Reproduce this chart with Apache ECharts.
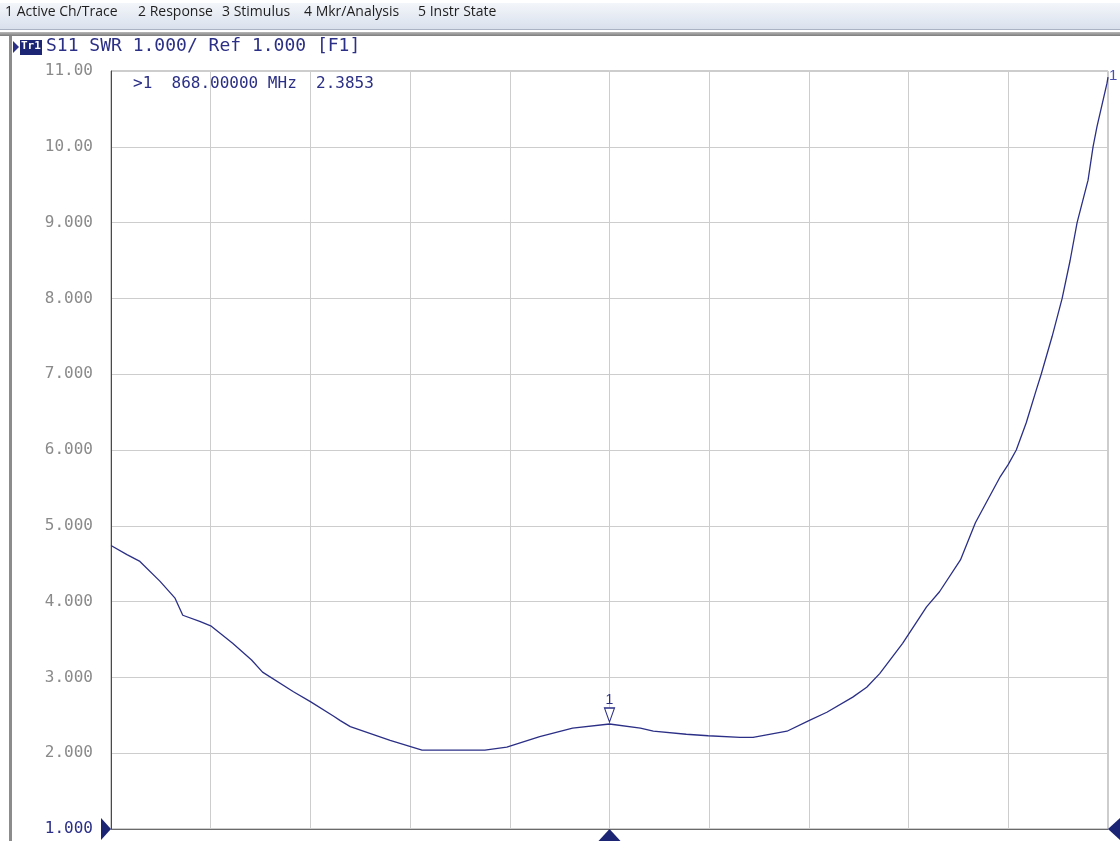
<!DOCTYPE html>
<html>
<head>
<meta charset="utf-8">
<script src="https://cdn.jsdelivr.net/npm/echarts@6/dist/echarts.min.js"></script>
<style>
  html, body { margin: 0; padding: 0; background: #fff; }
  #main { width: 1120px; height: 841px; }
</style>
</head>
<body>
<div id="main"></div>
<script>
// 菜单栏文字
var menuItems = ['1 Active Ch/Trace', '2 Response', '3 Stimulus', '4 Mkr/Analysis', '5 Instr State'];
// 横轴按格数 (0 ~ 10)，标记 1 在中间 868 MHz
var xDiv = [0.00, 0.16, 0.29, 0.49, 0.64, 0.72, 0.89, 1.00, 1.22, 1.41, 1.52, 1.83, 2.00, 2.23, 2.30,
  2.40, 2.80, 3.12, 3.75, 3.97, 4.30, 4.63, 5.00, 5.31, 5.44, 5.77, 5.99, 6.31, 6.44, 6.78,
  7.00, 7.18, 7.44, 7.58, 7.71, 7.94, 8.18, 8.31, 8.52, 8.67, 8.92, 9.00, 9.08, 9.18, 9.28,
  9.33, 9.44, 9.54, 9.62, 9.69, 9.80, 9.85, 9.89, 9.99, 10.00];
// SWR 值
var swr = [4.74, 4.62, 4.53, 4.27, 4.05, 3.82, 3.74, 3.68, 3.45, 3.23, 3.07, 2.81, 2.68, 2.49, 2.43,
  2.35, 2.17, 2.04, 2.04, 2.08, 2.22, 2.33, 2.3853, 2.33, 2.29, 2.25, 2.23, 2.21, 2.21, 2.29,
  2.43, 2.54, 2.74, 2.87, 3.05, 3.45, 3.93, 4.13, 4.55, 5.04, 5.65, 5.81, 6.00, 6.36, 6.79,
  7.00, 7.50, 8.00, 8.50, 9.00, 9.56, 10.00, 10.27, 10.84, 10.92];
// 纵轴刻度文字
var yTicks = [1, 2, 3, 4, 5, 6, 7, 8, 9, 10, 11];
var yTickLabels = ['1.000', '2.000', '3.000', '4.000', '5.000', '6.000', '7.000', '8.000', '9.000', '10.00', '11.00'];
// 标记
var markerX = 5;
var markerVal = 2.3853;
var markerText = '>1  868.00000 MHz  2.3853';
var headerText = 'S11 SWR 1.000/ Ref 1.000 [F1]';

var navy = '#2b2f86';
var mono = '"DejaVu Sans Mono", monospace';

var myChart = echarts.init(document.getElementById('main'));

// 菜单文字位置
var menuX = [5, 138, 222, 304, 418];
var graphics = [
  {
    type: 'rect', left: 0, top: 3, z: 0,
    shape: { width: 1120, height: 26 },
    style: {
      fill: new echarts.graphic.LinearGradient(0, 0, 0, 1, [
        { offset: 0, color: '#f3f6fa' },
        { offset: 1, color: '#d9e1ed' }
      ])
    }
  },
  { type: 'rect', left: 0, top: 29, shape: { width: 1120, height: 1 }, style: { fill: '#a9b3c4' } },
  {
    type: 'rect', left: 0, top: 32, shape: { width: 1120, height: 4 },
    style: {
      fill: new echarts.graphic.LinearGradient(0, 0, 0, 1, [
        { offset: 0, color: '#b8b8b8' },
        { offset: 1, color: '#7c7c7c' }
      ])
    }
  },
  { type: 'rect', left: 9, top: 36, shape: { width: 3, height: 805 }, style: { fill: '#8c8c8c' } },
  // 头部 Tr1
  { type: 'polygon', shape: { points: [[13, 41], [19, 47], [13, 53]] }, style: { fill: navy } },
  { type: 'rect', left: 20, top: 40, shape: { width: 22, height: 15 }, style: { fill: '#1c2474' } },
  {
    type: 'text', left: 21, top: 41,
    style: { text: 'Tr1', fill: '#fff', font: 'bold 11px ' + mono }
  },
  {
    type: 'text', left: 46, top: 37,
    style: { text: headerText, fill: navy, font: '18px ' + mono }
  },
  {
    type: 'text', left: 133, top: 76,
    style: { text: markerText, fill: navy, font: '16px ' + mono }
  },
  {
    type: 'text', left: 1109, top: 68,
    style: { text: '1', fill: '#4a4fb0', font: '15px "Liberation Sans", sans-serif' }
  }
];
menuItems.forEach(function (item, i) {
  graphics.push({
    type: 'text', left: menuX[i], top: 5,
    style: { text: item, fill: '#1e1e1e', font: '14px "Open Sans", sans-serif' }
  });
});

var option = {
  animation: false,
  backgroundColor: '#fff',
  grid: {
    left: 111, right: 12, top: 71, bottom: 12,
    show: true, borderColor: '#9a9a9a', borderWidth: 1
  },
  xAxis: {
    type: 'value', min: 0, max: 10, interval: 1,
    axisLine: { show: true, lineStyle: { color: '#6a6a6a', width: 1 } },
    axisTick: { show: false },
    axisLabel: { show: false },
    splitLine: { show: true, lineStyle: { color: '#cdcdcd', width: 1 } }
  },
  yAxis: {
    type: 'value', min: 1, max: 11, interval: 1,
    axisLine: { show: true, lineStyle: { color: '#4a4a4a', width: 1 } },
    axisTick: { show: false },
    axisLabel: {
      margin: 18,
      fontFamily: mono,
      fontSize: 16,
      color: '#8a8a8a',
      formatter: function (v) {
        var i = yTicks.indexOf(Math.round(v));
        var t = i >= 0 ? yTickLabels[i] : '';
        return Math.round(v) === 1 ? '{ref|' + t + '}' : t;
      },
      rich: { ref: { color: navy, fontFamily: mono, fontSize: 16 } }
    },
    splitLine: { show: true, lineStyle: { color: '#cdcdcd', width: 1 } }
  },
  series: [{
    type: 'line',
    data: xDiv.map(function (x, i) { return [x, swr[i]]; }),
    showSymbol: false,
    smooth: false,
    clip: true,
    lineStyle: { color: navy, width: 1.3 },
    markPoint: {
      silent: true,
      data: [
        {
          coord: [markerX, markerVal],
          symbol: 'path://M0,0 L10,0 L5,14 Z',
          symbolSize: [10, 14],
          symbolOffset: [0, -9],
          itemStyle: { color: '#fff', borderColor: navy, borderWidth: 1.2 },
          label: {
            show: true, position: 'top', distance: 0,
            formatter: '1', color: navy, fontSize: 14, fontFamily: '"Liberation Sans", sans-serif'
          }
        },
        {
          coord: [markerX, 1],
          symbol: 'triangle',
          symbolSize: [22, 12],
          symbolOffset: [0, 6],
          itemStyle: { color: '#1c2474' },
          label: { show: false }
        },
        {
          coord: [0, 1],
          symbol: 'triangle',
          symbolRotate: -90,
          symbolSize: [22, 10],
          symbolOffset: [-5, 0],
          itemStyle: { color: '#1c2474' },
          label: { show: false }
        },
        {
          coord: [10, 1],
          symbol: 'triangle',
          symbolRotate: 90,
          symbolSize: [22, 12],
          symbolOffset: [6, 0],
          itemStyle: { color: '#1c2474' },
          label: { show: false }
        }
      ]
    }
  }],
  graphic: graphics
};

myChart.setOption(option);
</script>
</body>
</html>
